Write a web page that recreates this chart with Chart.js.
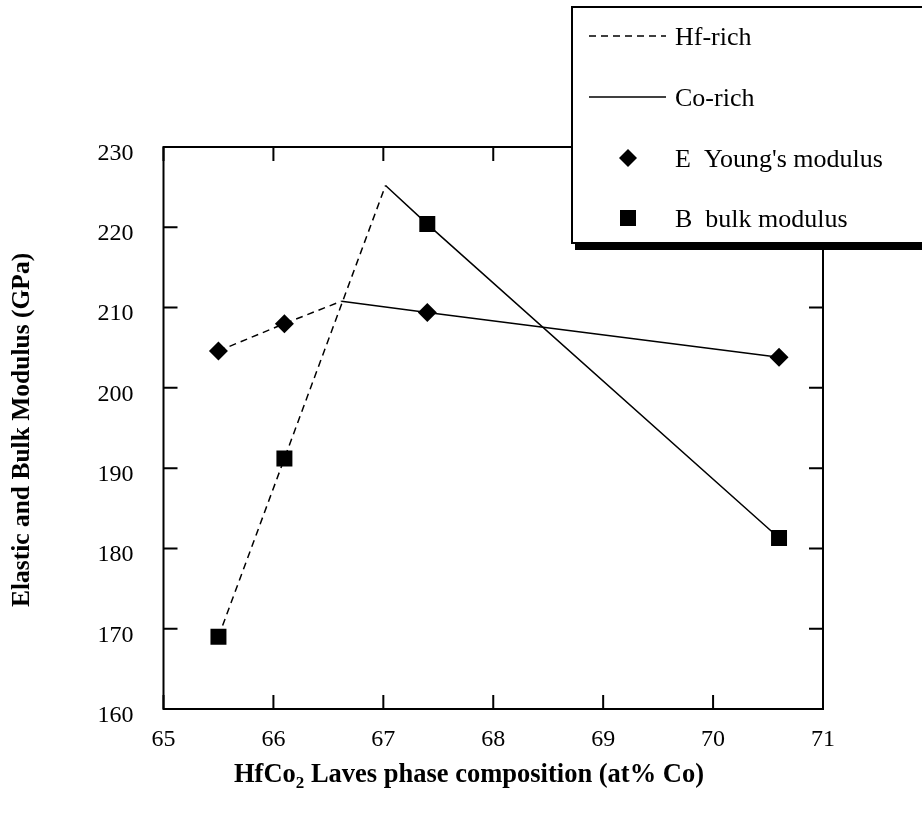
<!DOCTYPE html>
<html>
<head>
<meta charset="utf-8">
<script src="https://cdn.jsdelivr.net/npm/chart.js@4.4.1/dist/chart.umd.min.js"></script>
<style>
  html, body { margin: 0; background: #fff; }
  canvas { display: block; }
</style>
</head>
<body>
<canvas id="chart" width="922" height="813"></canvas>
<script>
// measured points
const composition = [65.5, 66.1, 67.4, 70.6];
const youngModulus = [204.6, 208.0, 209.4, 203.8];
const bulkModulus = [169.0, 191.2, 220.4, 181.3];

// trend lines as drawn in the figure
const hfRichEx = [65.5, 66.1, 66.62];
const hfRichEy = [204.6, 208.0, 210.8];
const coRichEx = [66.62, 67.4, 70.6];
const coRichEy = [210.8, 209.4, 203.8];
const hfRichBx = [65.5, 66.1, 67.02];
const hfRichBy = [169.0, 191.2, 225.2];
const coRichBx = [67.02, 67.4, 70.6];
const coRichBy = [225.2, 220.4, 181.3];

const legendLabels = ["Hf-rich", "Co-rich", "E  Young's modulus", "B  bulk modulus"];
const xTitle = ["HfCo", "2", " Laves phase composition (at% Co)"];
const yTitle = "Elastic and Bulk Modulus (GPa)";

const pts = (xs, ys) => xs.map((x, i) => ({ x: x, y: ys[i] }));

function lineSet(xs, ys, dashed) {
  return {
    type: 'line',
    data: pts(xs, ys),
    borderColor: '#000',
    borderWidth: 1.5,
    borderDash: dashed ? [7, 5] : [],
    pointRadius: 0,
    fill: false,
    tension: 0
  };
}

const SERIF = '"Liberation Serif", "DejaVu Serif", serif';

const framePlugin = {
  id: 'frame',
  afterDatasetsDraw(chart) {
    const { ctx, chartArea: a, scales } = chart;
    const x = scales.x, y = scales.y;
    ctx.save();
    ctx.strokeStyle = '#000';
    ctx.lineWidth = 2;
    ctx.strokeRect(a.left, a.top, a.right - a.left, a.bottom - a.top);
    ctx.beginPath();
    x.ticks.forEach(t => {
      const px = x.getPixelForValue(t.value);
      ctx.moveTo(px, a.bottom); ctx.lineTo(px, a.bottom - 14);
      ctx.moveTo(px, a.top); ctx.lineTo(px, a.top + 14);
    });
    y.ticks.forEach(t => {
      const py = y.getPixelForValue(t.value);
      ctx.moveTo(a.left, py); ctx.lineTo(a.left + 14, py);
      ctx.moveTo(a.right, py); ctx.lineTo(a.right - 14, py);
    });
    ctx.stroke();

    // axis titles
    ctx.fillStyle = '#000';
    ctx.font = 'bold 26.5px ' + SERIF;
    ctx.textBaseline = 'alphabetic';
    const w0 = ctx.measureText(xTitle[0]).width;
    ctx.font = 'bold 17px ' + SERIF;
    const w1 = ctx.measureText(xTitle[1]).width;
    ctx.font = 'bold 26.5px ' + SERIF;
    const w2 = ctx.measureText(xTitle[2]).width;
    let tx = 469 - (w0 + w1 + w2) / 2;
    const base = 782;
    ctx.textAlign = 'left';
    ctx.fillText(xTitle[0], tx, base);
    tx += w0;
    ctx.font = 'bold 17px ' + SERIF;
    ctx.fillText(xTitle[1], tx, base + 6);
    tx += w1;
    ctx.font = 'bold 26.5px ' + SERIF;
    ctx.fillText(xTitle[2], tx, base);

    ctx.font = 'bold 25.5px ' + SERIF;
    ctx.translate(22, (a.top + a.bottom) / 2 + 2);
    ctx.rotate(-Math.PI / 2);
    ctx.textAlign = 'center';
    ctx.textBaseline = 'middle';
    ctx.fillText(yTitle, 0, 0);
    ctx.restore();
  },
  afterDraw(chart) {
    const ctx = chart.ctx;
    const L = 572, T = 7, R = 935, B = 243;
    ctx.save();
    ctx.fillStyle = '#000';
    ctx.fillRect(L + 3, T + 5, R - L, B - T + 2);
    ctx.fillStyle = '#fff';
    ctx.fillRect(L, T, R - L, B - T);
    ctx.strokeStyle = '#000';
    ctx.lineWidth = 2;
    ctx.strokeRect(L, T, R - L, B - T);

    const rows = [36, 97, 158, 218];
    ctx.lineWidth = 1.5;
    ctx.beginPath();
    ctx.setLineDash([7, 5]);
    ctx.moveTo(589, rows[0]); ctx.lineTo(666, rows[0]);
    ctx.stroke();
    ctx.setLineDash([]);
    ctx.beginPath();
    ctx.moveTo(589, rows[1]); ctx.lineTo(666, rows[1]);
    ctx.stroke();

    ctx.fillStyle = '#000';
    ctx.beginPath();
    ctx.moveTo(628, rows[2] - 9); ctx.lineTo(637, rows[2]);
    ctx.lineTo(628, rows[2] + 9); ctx.lineTo(619, rows[2]);
    ctx.closePath(); ctx.fill();
    ctx.fillRect(620, rows[3] - 8, 16, 16);

    ctx.font = '26px ' + SERIF;
    ctx.textAlign = 'left';
    ctx.textBaseline = 'middle';
    legendLabels.forEach((lab, i) => ctx.fillText(lab, 675, rows[i] + 2));
    ctx.restore();
  }
};

new Chart(document.getElementById('chart'), {
  type: 'scatter',
  data: {
    datasets: [
      lineSet(hfRichEx, hfRichEy, true),
      lineSet(coRichEx, coRichEy, false),
      lineSet(hfRichBx, hfRichBy, true),
      lineSet(coRichBx, coRichBy, false),
      {
        data: pts(composition, youngModulus),
        pointStyle: 'rectRot',
        pointRadius: 9.5,
        pointHoverRadius: 9.5,
        backgroundColor: '#000',
        borderColor: '#000',
        borderWidth: 0,
        showLine: false
      },
      {
        data: pts(composition, bulkModulus),
        pointStyle: 'rect',
        pointRadius: 11.3,
        pointHoverRadius: 11.3,
        backgroundColor: '#000',
        borderColor: '#000',
        borderWidth: 0,
        showLine: false
      }
    ]
  },
  options: {
    responsive: false,
    animation: false,
    layout: { padding: { left: 0, right: 99, top: 147, bottom: 0 } },
    plugins: { legend: { display: false }, tooltip: { enabled: false } },
    scales: {
      x: {
        type: 'linear',
        min: 65,
        max: 71,
        ticks: { stepSize: 1, color: '#000', padding: 8, font: { family: SERIF, size: 24 } },
        grid: { display: false },
        border: { display: false },
        afterFit: s => { s.height = 104; }
      },
      y: {
        min: 160,
        max: 230,
        ticks: {
          stepSize: 10,
          color: '#000',
          padding: 22,
          // labels sit a little below their tick marks in the original
          callback: v => ['', String(v)],
          font: { family: SERIF, size: 24, lineHeight: '13px' }
        },
        grid: { display: false },
        border: { display: false },
        afterFit: s => { s.width = 163.5; }
      }
    }
  },
  plugins: [framePlugin]
});
</script>
</body>
</html>
